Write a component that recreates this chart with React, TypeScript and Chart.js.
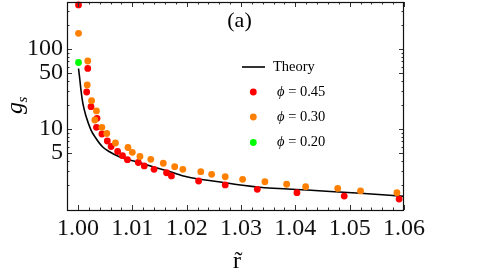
import { useEffect, useRef } from 'react';
import { Chart, registerables } from 'chart.js';

Chart.register(...registerables);

// ---- data ----
const xTickValues = [1.0, 1.01, 1.02, 1.03, 1.04, 1.05, 1.06];
const yTickValues = [5, 10, 50, 100];

const redX = [1.0001, 1.0018, 1.0016, 1.0024, 1.0035, 1.0034, 1.0044, 1.0054, 1.0061, 1.0073, 1.0082, 1.0091, 1.0111, 1.0122, 1.0140, 1.0163, 1.0172, 1.0222, 1.0271, 1.0330, 1.0403, 1.0490, 1.0591];
const redY = [355, 57.1, 29.0, 19.0, 13.6, 10.5, 8.66, 7.08, 6.04, 5.23, 4.64, 4.13, 3.81, 3.45, 3.13, 2.84, 2.59, 2.24, 2.0, 1.76, 1.60, 1.45, 1.33];

const orangeX = [1.0001, 1.0018, 1.0017, 1.0025, 1.0034, 1.0031, 1.0044, 1.0053, 1.0069, 1.0092, 1.0100, 1.0114, 1.0134, 1.0157, 1.0178, 1.0193, 1.0226, 1.0246, 1.0271, 1.0303, 1.0344, 1.0384, 1.0419, 1.0478, 1.0520, 1.0587];
const orangeY = [157, 70.8, 35.5, 22.6, 16.8, 12.95, 10.5, 8.79, 6.68, 5.87, 5.11, 4.53, 4.18, 3.73, 3.38, 3.13, 2.93, 2.71, 2.53, 2.35, 2.19, 2.04, 1.90, 1.81, 1.68, 1.60];

const greenX = [1.0001];
const greenY = [67.8];

const theoryX = [1.0001, 1.0003, 1.00055, 1.0009, 1.0015, 1.0024, 1.0033, 1.0045, 1.0058, 1.0076, 1.0107, 1.0138, 1.0170, 1.0200, 1.0262, 1.0330, 1.0436, 1.0520, 1.0600];
const theoryY = [57, 44, 30.7, 20.9, 14.3, 9.7, 7.65, 6.0, 5.2, 4.5, 3.9, 3.38, 2.92, 2.53, 2.17, 1.88, 1.70, 1.57, 1.44];

const seriesLabels = ['Theory', '0.45', '0.30', '0.20'];
const seriesColors = ['#000000', '#ff0000', '#ff8000', '#00ff00'];

const SERIF = '"Liberation Serif", "Times New Roman", serif';

const toPoints = (xs: number[], ys: number[]) => xs.map((x, i) => ({ x, y: ys[i] }));

const decorPlugin = {
  id: 'decor',
  afterDraw(chart: any) {
    const { ctx, chartArea: a, scales } = chart;
    const xs = scales.x;
    const ys = scales.y;

    // inner tick marks on all four sides
    ctx.save();
    ctx.strokeStyle = '#333';
    ctx.lineWidth = 1;
    ctx.beginPath();
    for (let k = 0; k <= 30; k++) {
      const v = 1 + k * 0.002;
      const len = k % 5 === 0 ? 5 : 2.5;
      const px = Math.round(xs.getPixelForValue(v)) + 0.5;
      ctx.moveTo(px, a.bottom);
      ctx.lineTo(px, a.bottom - len);
      ctx.moveTo(px, a.top);
      ctx.lineTo(px, a.top + len);
    }
    for (const dec of [1, 10, 100]) {
      for (let m = 1; m <= 9; m++) {
        const v = m * dec;
        if (v < 2 || v > 300) continue;
        const len = m === 1 || m === 5 ? 5 : 2.5;
        const py = Math.round(ys.getPixelForValue(v)) + 0.5;
        ctx.moveTo(a.left, py);
        ctx.lineTo(a.left + len, py);
        ctx.moveTo(a.right, py);
        ctx.lineTo(a.right - len, py);
      }
    }
    ctx.stroke();
    // frame
    ctx.lineWidth = 1.2;
    ctx.strokeStyle = '#111';
    ctx.strokeRect(a.left + 0.5, a.top + 0.5, a.right - a.left - 1, a.bottom - a.top);
    ctx.restore();

    ctx.save();
    ctx.fillStyle = '#000';
    // panel label
    ctx.font = `22px ${SERIF}`;
    ctx.textAlign = 'center';
    ctx.textBaseline = 'middle';
    ctx.fillText('(a)', 239.5, 21);

    // legend
    const lx = 242;
    const rowY = [67, 92, 117, 142.5];
    ctx.textAlign = 'left';
    ctx.strokeStyle = seriesColors[0];
    ctx.lineWidth = 1.6;
    ctx.beginPath();
    ctx.moveTo(lx, rowY[0]);
    ctx.lineTo(lx + 23, rowY[0]);
    ctx.stroke();
    ctx.font = `14.5px ${SERIF}`;
    ctx.fillText(seriesLabels[0], 273, rowY[0]);
    for (let i = 1; i < 4; i++) {
      ctx.fillStyle = seriesColors[i];
      ctx.beginPath();
      ctx.arc(253.3, rowY[i], 3.4, 0, Math.PI * 2);
      ctx.fill();
      ctx.fillStyle = '#000';
      ctx.font = `italic 14.5px ${SERIF}`;
      ctx.fillText('\u03D5', 277, rowY[i]);
      const w = ctx.measureText('\u03D5').width;
      ctx.font = `14.5px ${SERIF}`;
      ctx.fillText(' = ' + seriesLabels[i], 277 + w, rowY[i]);
    }

    // x axis title
    ctx.font = `24px ${SERIF}`;
    ctx.textAlign = 'center';
    ctx.textBaseline = 'alphabetic';
    ctx.fillText('r\u0303', (a.left + a.right) / 2 + 1.5, 268);

    // y axis title g_s (rotated)
    ctx.translate(22, 114);
    ctx.rotate(-Math.PI / 2);
    ctx.textAlign = 'left';
    ctx.font = `italic 24px ${SERIF}`;
    ctx.fillText('g', 0, 0);
    const gw = ctx.measureText('g').width;
    ctx.font = `italic 15px ${SERIF}`;
    ctx.fillText('s', gw - 0.5, 5);
    ctx.restore();
  },
};

export default function App() {
  const ref = useRef<HTMLCanvasElement>(null);
  useEffect(() => {
    const chart = new Chart(ref.current as HTMLCanvasElement, {
      type: 'scatter',
      data: {
        datasets: [
          {
            label: seriesLabels[0],
            type: 'line',
            data: toPoints(theoryX, theoryY),
            borderColor: seriesColors[0],
            borderWidth: 1.6,
            pointRadius: 0,
            showLine: true,
            fill: false,
            cubicInterpolationMode: 'monotone',
            order: 4,
            clip: false,
          } as any,
          { label: seriesLabels[1], data: toPoints(redX, redY), backgroundColor: seriesColors[1], borderWidth: 0, pointRadius: 3.4, order: 3, clip: false },
          { label: seriesLabels[2], data: toPoints(orangeX, orangeY), backgroundColor: seriesColors[2], borderWidth: 0, pointRadius: 3.4, order: 2, clip: false },
          { label: seriesLabels[3], data: toPoints(greenX, greenY), backgroundColor: seriesColors[3], borderWidth: 0, pointRadius: 3.4, order: 1, clip: false },
        ],
      },
      options: {
        animation: false,
        responsive: false,
        maintainAspectRatio: false,
        events: [],
        layout: { autoPadding: false, padding: { left: 0, right: 75, top: 2, bottom: 0 } },
        plugins: { legend: { display: false }, tooltip: { enabled: false }, title: { display: false } },
        scales: {
          x: {
            type: 'linear',
            min: 0.99798,
            max: 1.06,
            grid: { display: false, drawTicks: false },
            border: { display: false },
            afterBuildTicks: (s: any) => { s.ticks = xTickValues.map((v) => ({ value: v })); },
            afterFit: (s: any) => { s.height = 61; s.paddingLeft = 0; s.paddingRight = 0; },
            ticks: { font: { family: SERIF, size: 24 }, color: '#111', padding: 4, maxRotation: 0, autoSkip: false, callback: (v: any) => Number(v).toFixed(2) },
          },
          y: {
            type: 'logarithmic',
            min: 0.9716,
            max: 386.7,
            grid: { display: false, drawTicks: false },
            border: { display: false },
            afterBuildTicks: (s: any) => { s.ticks = yTickValues.map((v) => ({ value: v })); },
            afterFit: (s: any) => { s.width = 67; s.paddingTop = 0; s.paddingBottom = 0; },
            ticks: { font: { family: SERIF, size: 24 }, color: '#111', padding: 4, autoSkip: false, callback: (v: any) => String(v) },
          },
        },
      } as any,
      plugins: [decorPlugin],
    });
    return () => chart.destroy();
  }, []);
  return (
    <div style={{ position: 'fixed', left: 0, top: 0, width: 479, height: 271, background: '#fff' }}>
      <canvas ref={ref} width={479} height={271} style={{ display: 'block', width: 479, height: 271 }} />
    </div>
  );
}
